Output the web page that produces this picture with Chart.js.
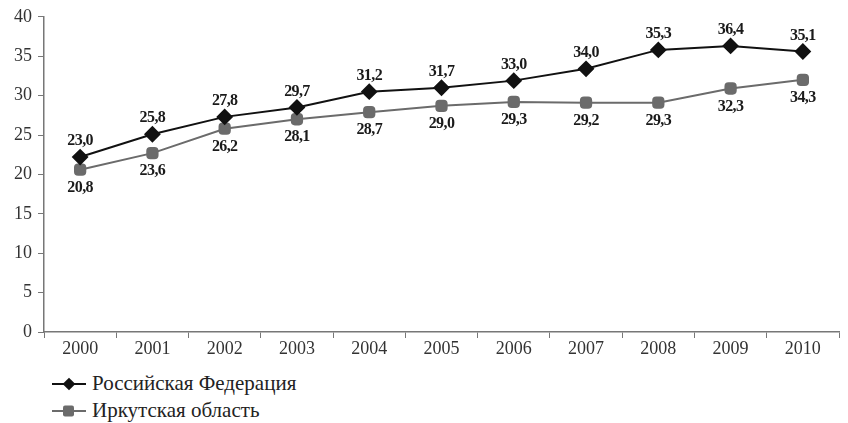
<!DOCTYPE html>
<html>
<head>
<meta charset="utf-8">
<script src="https://cdn.jsdelivr.net/npm/chart.js@4.4.1/dist/chart.umd.min.js"></script>
<style>
  body { margin: 0; background: #fff; }
  #wrap { position: relative; width: 848px; height: 360px; }
  #legend { margin-left: 52px; margin-top: 10px; font-family: "Liberation Serif", serif; font-size: 21px; color: #222; }
  #legend div { height: 27px; display: flex; align-items: center; }
  #legend svg { margin-right: 6px; }
</style>
</head>
<body>
<div id="wrap"><canvas id="lineChart"></canvas></div>
<div id="legend">
  <div><svg width="34" height="14"><line x1="0" y1="7" x2="34" y2="7" stroke="#111" stroke-width="2"/><rect x="11" y="1" width="9" height="9" fill="#111" transform="rotate(45 17 7) translate(1.5 1.5)"/></svg><span>Российская Федерация</span></div>
  <div><svg width="34" height="14"><line x1="0" y1="7" x2="34" y2="7" stroke="#6b6b6b" stroke-width="2"/><rect x="11" y="1.5" width="11" height="11" rx="2" fill="#6b6b6b"/></svg><span>Иркутская область</span></div>
</div>
<script>
// categories and series
const years = ['2000', '2001', '2002', '2003', '2004', '2005', '2006', '2007', '2008', '2009', '2010'];
const russia = [22.2, 25.1, 27.3, 28.5, 30.5, 31.0, 31.9, 33.4, 35.8, 36.3, 35.6];
const irkutsk = [20.6, 22.7, 25.8, 27.0, 27.9, 28.7, 29.2, 29.1, 29.1, 30.9, 32.0];
// value labels as printed on the chart
const russiaLabels = ['23,0', '25,8', '27,8', '29,7', '31,2', '31,7', '33,0', '34,0', '35,3', '36,4', '35,1'];
const irkutskLabels = ['20,8', '23,6', '26,2', '28,1', '28,7', '29,0', '29,3', '29,2', '29,3', '32,3', '34,3'];
const yTicks = [0, 5, 10, 15, 20, 25, 30, 35, 40];

// draw the number labels above / below the points
const valueLabels = {
    id: 'valueLabels',
    afterDatasetsDraw(chart) {
        const ctx = chart.ctx;
        ctx.save();
        ctx.font = 'bold 16px "Liberation Serif"';
        ctx.letterSpacing = '-0.6px';
        ctx.fillStyle = '#1a1a1a';
        ctx.textAlign = 'center';
        ctx.textBaseline = 'middle';
        chart.getDatasetMeta(0).data.forEach((pt, i) => {
            ctx.fillText(russiaLabels[i], pt.x, pt.y - 16);
        });
        chart.getDatasetMeta(1).data.forEach((pt, i) => {
            ctx.fillText(irkutskLabels[i], pt.x, pt.y + 18);
        });
        ctx.restore();
    }
};

const ctx = document.getElementById('lineChart').getContext('2d');
const lineChart = new Chart(ctx, {
    type: 'line',
    data: {
        labels: years,
        datasets: [{
            label: 'Российская Федерация',
            data: russia,
            borderColor: '#111',
            backgroundColor: '#111',
            borderWidth: 2,
            pointStyle: 'rectRot',
            pointRadius: 7,
            pointHoverRadius: 7,
            tension: 0
        }, {
            label: 'Иркутская область',
            data: irkutsk,
            borderColor: '#6b6b6b',
            backgroundColor: '#6b6b6b',
            borderWidth: 2,
            pointStyle: 'rectRounded',
            pointRadius: 6,
            pointHoverRadius: 6,
            tension: 0
        }]
    },
    options: {
        responsive: true,
        maintainAspectRatio: false,
        animation: false,
        layout: { padding: { top: 16, right: 1, left: 0, bottom: 0 } },
        plugins: {
            legend: { display: false },
            tooltip: { enabled: false }
        },
        scales: {
            x: {
                offset: true,
                grid: { offset: true, drawOnChartArea: false, tickLength: 6, color: '#777' },
                border: { color: '#777', width: 1.5 },
                ticks: { color: '#333', font: { family: 'Liberation Serif', size: 18 }, padding: 0 },
                afterFit(scale) { scale.height = 28; }
            },
            y: {
                min: 0,
                max: 40,
                afterBuildTicks(scale) { scale.ticks = yTicks.map(v => ({ value: v })); },
                grid: { drawOnChartArea: false, tickLength: 6, color: '#777' },
                border: { color: '#777', width: 1.5 },
                ticks: { color: '#333', font: { family: 'Liberation Serif', size: 18 }, padding: 6 },
                afterFit(scale) { scale.width = 44; }
            }
        }
    },
    plugins: [valueLabels]
});
</script>
</body>
</html>
